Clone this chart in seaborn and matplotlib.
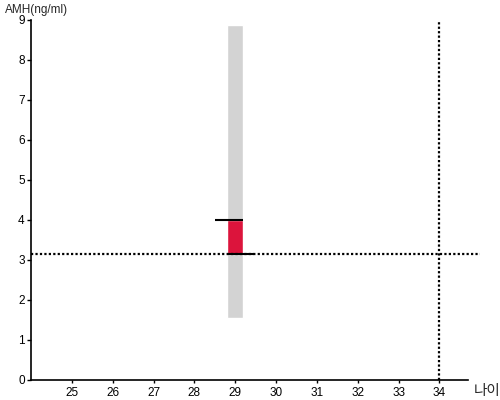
import seaborn as sns
import matplotlib.pyplot as plt

# data
age = [29]
range_low = [1.55]
range_high = [8.88]
amh_low = [3.14]
amh_high = [4.0]
current_age = 34
current_amh = 3.14
x_ticks = [25, 26, 27, 28, 29, 30, 31, 32, 33, 34]
y_ticks = [0, 1, 2, 3, 4, 5, 6, 7, 8, 9]

sns.set_style("white")
plt.rcParams['font.family'] = ['Liberation Sans', 'Noto Sans CJK KR', 'DejaVu Sans']

fig = plt.figure(figsize=(5, 4), dpi=100)
ax = fig.add_axes([0.062, 0.05, 0.874, 0.90])

w = 0.39
# grey reference range
ax.bar(age, [h - l for h, l in zip(range_high, range_low)], bottom=range_low,
       width=w, color="#d3d3d3", zorder=1)
# red measured range
ax.bar(age, [h - l for h, l in zip(amh_high, amh_low)], bottom=amh_low,
       width=w, color="#dc143c", zorder=2)
# caps
for a, lo, hi in zip(age, amh_low, amh_high):
    ax.plot([a - 0.5, a + w / 2], [hi, hi], color="black", lw=1.5, zorder=3,
            solid_capstyle="butt")
    ax.plot([a - w / 2, a + 0.46], [lo, lo], color="black", lw=1.5, zorder=3,
            solid_capstyle="butt")

# dotted guide lines
ax.plot([24, 35], [current_amh, current_amh], color="black", lw=1.6,
        dashes=(1, 1), clip_on=False, zorder=4)
ax.plot([current_age, current_age], [0, 9], color="black", lw=1.6,
        dashes=(1, 1), clip_on=False, zorder=4)

ax.set_xlim(24, 34.7)
ax.set_ylim(0, 9)
ax.set_xticks(x_ticks)
ax.set_yticks(y_ticks)
ax.tick_params(axis="both", labelsize=8.5, width=1, colors="black",
               direction="out", left=True, bottom=True)
ax.tick_params(axis="y", length=3, pad=1.5)
ax.tick_params(axis="x", length=2.5, pad=2.5)

sns.despine(ax=ax)
for s in ["left", "bottom"]:
    ax.spines[s].set_linewidth(1.2)
    ax.spines[s].set_color("black")

fig.text(0.01, 0.975, "AMH(ng/ml)", fontsize=8.5, ha="left", va="center")
fig.text(0.974, 0.022, "나이", fontsize=10.5, ha="center", va="center",
         family=['Noto Sans CJK KR', 'DejaVu Sans'])

fig.savefig("out.png", dpi=100)
